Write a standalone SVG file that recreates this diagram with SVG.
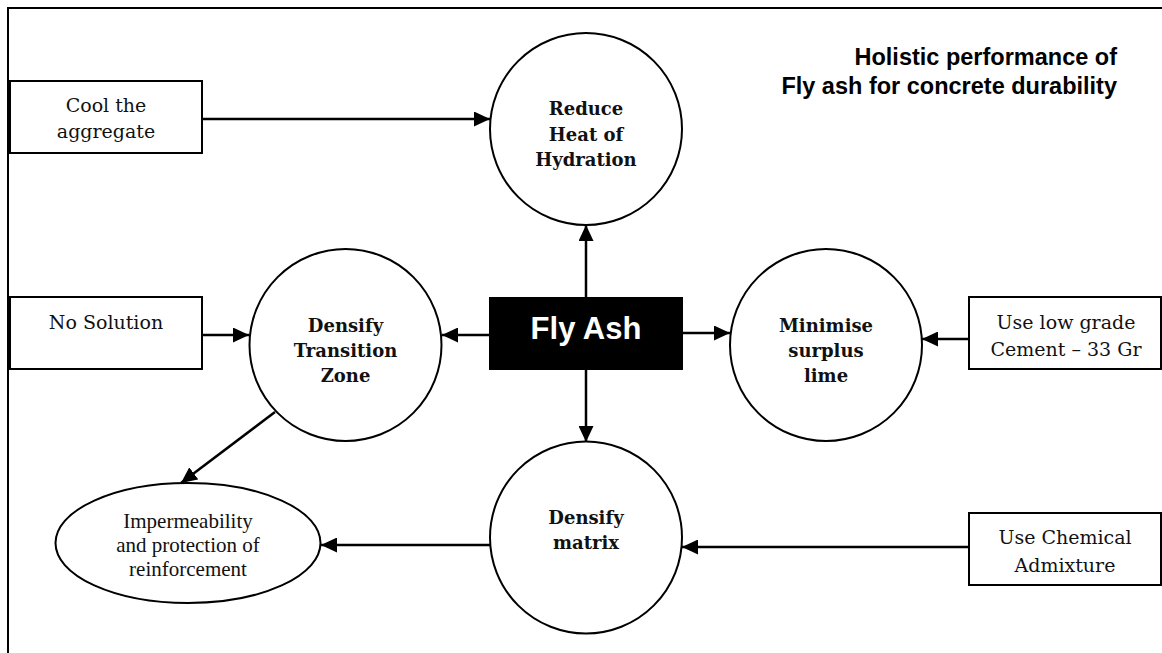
<svg xmlns="http://www.w3.org/2000/svg" width="1162" height="653" viewBox="0 0 1162 653">
<defs>
<style>
.box{fill:#fff;stroke:#000;stroke-width:2}
.circ{fill:#fff;stroke:#000;stroke-width:2}
.conn{stroke:#000;stroke-width:2.5;fill:none}
.t{font-family:"DejaVu Serif","Liberation Serif",serif;font-size:19px;text-anchor:middle;fill:#111}
.tb{font-family:"DejaVu Serif","Liberation Serif",serif;font-size:18px;font-weight:bold;text-anchor:middle;fill:#111}
.te{font-family:"Liberation Serif",serif;font-size:21px;text-anchor:middle;fill:#111}
.title{font-family:"Liberation Sans",Arial,sans-serif;font-size:23.5px;font-weight:bold;text-anchor:end;fill:#000}
</style>
<marker id="ah" markerUnits="userSpaceOnUse" markerWidth="16" markerHeight="15" refX="16" refY="7.5" orient="auto">
<path d="M0,0 L16,7.5 L0,15 z" fill="#000"/>
</marker>
</defs>
<rect width="1162" height="653" fill="#fff"/>
<rect x="8" y="8" width="1170" height="670" fill="none" stroke="#000" stroke-width="2"/>
<g id="title">
<text class="title" x="1117" y="65">Holistic performance of</text>
<text class="title" x="1117" y="94">Fly ash for concrete durability</text>
</g>
<g id="connectors">
<line class="conn" x1="202" y1="119" x2="490" y2="119" marker-end="url(#ah)"/>
<line class="conn" x1="586" y1="297" x2="586" y2="225" marker-end="url(#ah)"/>
<line class="conn" x1="586" y1="370" x2="586" y2="442" marker-end="url(#ah)"/>
<line class="conn" x1="489" y1="335" x2="442" y2="335" marker-end="url(#ah)"/>
<line class="conn" x1="683" y1="333" x2="730" y2="333" marker-end="url(#ah)"/>
<line class="conn" x1="202" y1="335" x2="249" y2="335" marker-end="url(#ah)"/>
<line class="conn" x1="969" y1="339" x2="922" y2="339" marker-end="url(#ah)"/>
<line class="conn" x1="275" y1="412" x2="181" y2="483" marker-end="url(#ah)"/>
<line class="conn" x1="490" y1="545" x2="321" y2="545" marker-end="url(#ah)"/>
<line class="conn" x1="969" y1="547" x2="682" y2="547" marker-end="url(#ah)"/>
</g>
<g id="cool">
<rect class="box" x="10" y="81" width="192" height="72"/>
<text class="t" x="106" y="112">Cool the</text>
<text class="t" x="106" y="138">aggregate</text>
</g>
<g id="reduce">
<circle class="circ" cx="586" cy="129" r="96"/>
<text class="tb" x="586" y="115">Reduce</text>
<text class="tb" x="586" y="140.5">Heat of</text>
<text class="tb" x="586" y="166">Hydration</text>
</g>
<g id="flyash">
<rect x="489" y="297" width="194" height="73" fill="#000"/>
<text x="586" y="339" font-family="Liberation Sans,Arial,sans-serif" font-size="31" font-weight="bold" fill="#fff" text-anchor="middle">Fly Ash</text>
</g>
<g id="nosolution">
<rect class="box" x="10" y="297" width="192" height="72"/>
<text class="t" x="106" y="329">No Solution</text>
</g>
<g id="transition">
<circle class="circ" cx="345.5" cy="345" r="96"/>
<text class="tb" x="345.5" y="332">Densify</text>
<text class="tb" x="345.5" y="357">Transition</text>
<text class="tb" x="345.5" y="382">Zone</text>
</g>
<g id="minimise">
<circle class="circ" cx="826" cy="345" r="96"/>
<text class="tb" x="826" y="332">Minimise</text>
<text class="tb" x="826" y="357">surplus</text>
<text class="tb" x="826" y="382">lime</text>
</g>
<g id="lowgrade">
<rect class="box" x="969" y="297" width="192" height="72"/>
<text class="t" x="1066" y="329">Use low grade</text>
<text class="t" x="1066" y="356">Cement – 33 Gr</text>
</g>
<g id="matrix">
<circle class="circ" cx="586" cy="537.5" r="96"/>
<text class="tb" x="586" y="524">Densify</text>
<text class="tb" x="586" y="549">matrix</text>
</g>
<g id="impermeability">
<ellipse class="circ" cx="188" cy="543" rx="132.5" ry="60"/>
<text class="te" x="188" y="528">Impermeability</text>
<text class="te" x="188" y="552">and protection of</text>
<text class="te" x="188" y="576">reinforcement</text>
</g>
<g id="chemical">
<rect class="box" x="969" y="513" width="192" height="72"/>
<text class="t" x="1065" y="544">Use Chemical</text>
<text class="t" x="1065" y="572">Admixture</text>
</g>
</svg>
